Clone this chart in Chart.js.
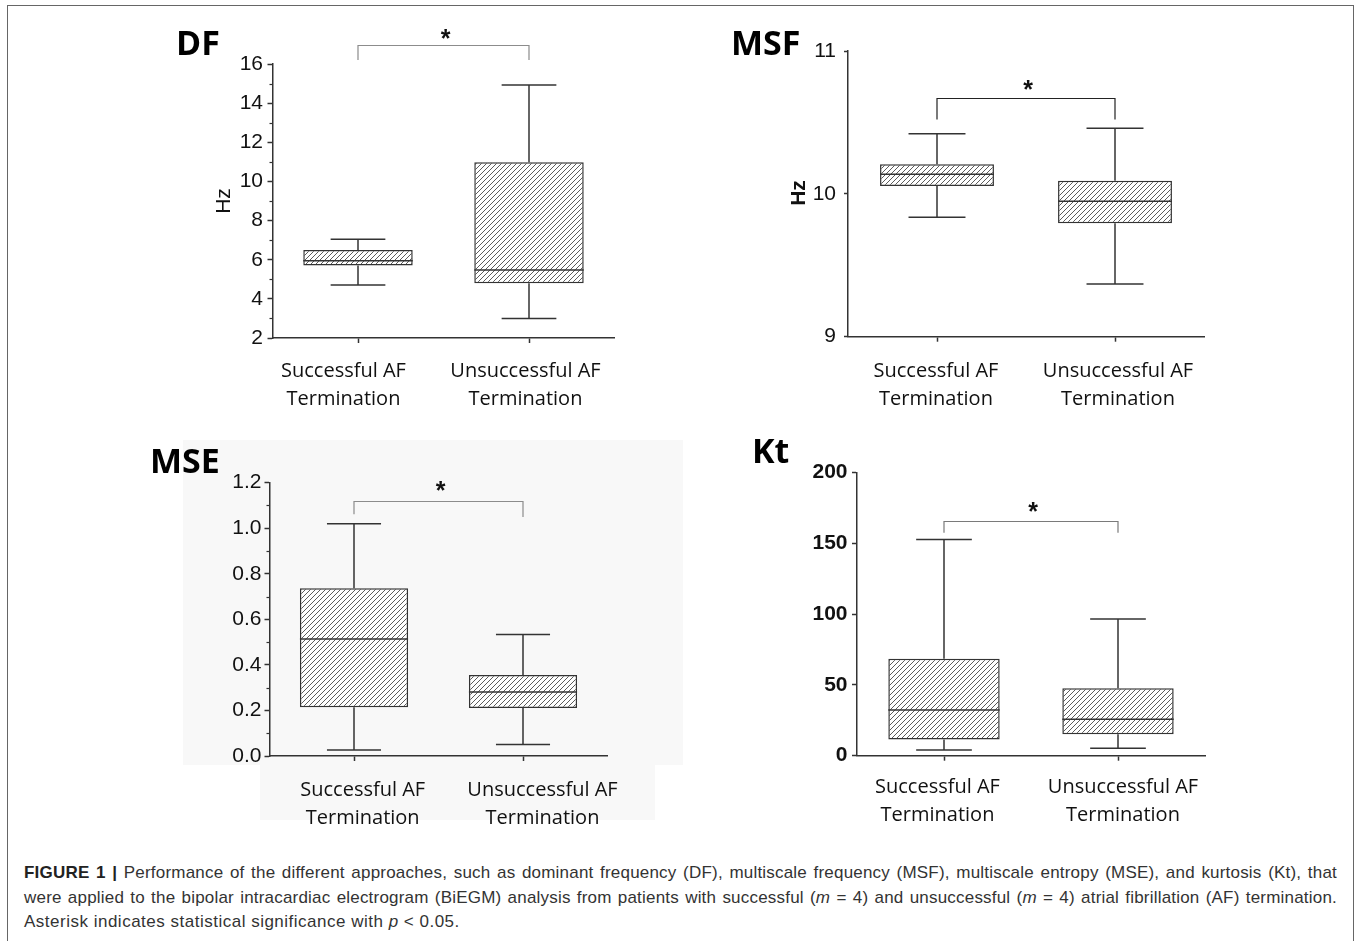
<!DOCTYPE html>
<html>
<head>
<meta charset="utf-8">
<script src="https://cdn.jsdelivr.net/npm/chart.js@4.4.1/dist/chart.umd.min.js"></script>
<style>
  html, body { margin:0; padding:0; background:#fff; }
  body { position:relative; width:1360px; height:941px; overflow:hidden; }
  .frame { position:absolute; left:7px; top:5px; width:1347px; height:950px; border:1.5px solid #666; box-sizing:border-box; }
  .bg { position:absolute; background:#f8f8f8; }
  canvas { position:absolute; }
  .caption { position:absolute; left:24px; top:861px; width:1313px; font-family:'Liberation Sans', Arial, sans-serif; font-size:17px; letter-spacing:0.2px; line-height:24.5px; color:#333; }
  .caption div { text-align:justify; text-align-last:justify; white-space:nowrap; }
  .caption div.last { text-align-last:left; letter-spacing:0.5px; }
  .caption b { color:#222; }
</style>
</head>
<body>
<div class="frame"></div>
<div class="bg" style="left:183px; top:440px; width:500px; height:325px;"></div>
<div class="bg" style="left:260px; top:765px; width:395px; height:55px;"></div>
<canvas id="df" width="500" height="420" style="left:130px; top:10px;"></canvas>
<canvas id="msf" width="520" height="420" style="left:700px; top:10px;"></canvas>
<canvas id="mse" width="560" height="410" style="left:130px; top:430px;"></canvas>
<canvas id="kt" width="520" height="410" style="left:700px; top:430px;"></canvas>
<div class="caption">
  <div><b>FIGURE 1 |</b> Performance of the different approaches, such as dominant frequency (DF), multiscale frequency (MSF), multiscale entropy (MSE), and kurtosis (Kt), that</div>
  <div>were applied to the bipolar intracardiac electrogram (BiEGM) analysis from patients with successful (<i>m</i> = 4) and unsuccessful (<i>m</i> = 4) atrial fibrillation (AF) termination.</div>
  <div class="last">Asterisk indicates statistical significance with <i>p</i> &lt; 0.05.</div>
</div>
<script>
// ---------- DATA ----------
const categories = [['Successful AF', 'Termination'], ['Unsuccessful AF', 'Termination']];

// DF (Hz)
const dfMin    = [4.71, 3.00];
const dfQ1     = [5.70, 4.80];
const dfMedian = [5.95, 5.47];
const dfQ3     = [6.50, 10.98];
const dfMax    = [7.04, 14.93];
const dfTicks  = [2, 4, 6, 8, 10, 12, 14, 16];
const dfMinorTicks = [3, 5, 7, 9, 11, 13, 15];

// MSF (Hz)
const msfMin    = [9.836, 9.369];
const msfQ1     = [10.055, 9.794];
const msfMedian = [10.137, 9.948];
const msfQ3     = [10.207, 10.092];
const msfMax    = [10.42, 10.46];
const msfTicks  = [9, 10, 11];
const msfMinorTicks = [];

// MSE
const mseMin    = [0.026, 0.050];
const mseQ1     = [0.214, 0.211];
const mseMedian = [0.514, 0.281];
const mseQ3     = [0.737, 0.356];
const mseMax    = [1.02, 0.533];
const mseTicks  = [0, 0.2, 0.4, 0.6, 0.8, 1.0, 1.2];
const mseMinorTicks = [0.1, 0.3, 0.5, 0.7, 0.9, 1.1];

// Kt
const ktMin    = [4.0, 5.2];
const ktQ1     = [11.5, 15.1];
const ktMedian = [32.3, 25.7];
const ktQ3     = [68.5, 47.6];
const ktMax    = [152.5, 96.5];
const ktTicks  = [0, 50, 100, 150, 200];
const ktMinorTicks = [];

// ---------- PANEL STYLE / LAYOUT ----------
const panels = {
  df: {
    canvas:{left:130, top:10, width:500, height:420},
    area:{left:272.5, top:64, right:614.5, bottom:338},
    min:dfMin, q1:dfQ1, med:dfMedian, q3:dfQ3, max:dfMax, ticks:dfTicks, minor:dfMinorTicks, dec:0,
    title:{text:'DF', x:176, y:55},
    yTitle:{text:'Hz', x:230, y:201, bold:false},
    bracket:{top:16.97, leftEnd:16.2, rightEnd:16.2, color:'#8c8c8c', starDy:13.5},
    labelDx:[-14.5, -3.5], labelBase:[376.7, 405],
    tickBold:false, tickLen:5, tickPad:4.5
  },
  msf: {
    canvas:{left:700, top:10, width:520, height:420},
    area:{left:848, top:51, right:1204, bottom:336.7},
    min:msfMin, q1:msfQ1, med:msfMedian, q3:msfQ3, max:msfMax, ticks:msfTicks, minor:msfMinorTicks, dec:0,
    title:{text:'MSF', x:731, y:55},
    yTitle:{text:'Hz', x:805, y:193, bold:true},
    bracket:{top:10.67, leftEnd:10.52, rightEnd:10.52, color:'#222', starDy:15.5},
    labelDx:[-1, 3], labelBase:[376.7, 405],
    tickBold:false, tickLen:4, tickPad:8
  },
  mse: {
    canvas:{left:130, top:430, width:560, height:410},
    area:{left:269.5, top:482.7, right:607.5, bottom:756},
    min:mseMin, q1:mseQ1, med:mseMedian, q3:mseQ3, max:mseMax, ticks:mseTicks, minor:mseMinorTicks, dec:1,
    title:{text:'MSE', x:150, y:473},
    yTitle:null,
    bracket:{top:1.119, leftEnd:1.061, rightEnd:1.049, color:'#8c8c8c', starDy:17},
    labelDx:[8.7, 19.5], labelBase:[796, 823.5],
    tickBold:false, tickLen:5, tickPad:3
  },
  kt: {
    canvas:{left:700, top:430, width:520, height:410},
    area:{left:857, top:472.3, right:1205, bottom:755.7},
    min:ktMin, q1:ktQ1, med:ktMedian, q3:ktQ3, max:ktMax, ticks:ktTicks, minor:ktMinorTicks, dec:0,
    title:{text:'Kt', x:752, y:462.5},
    yTitle:null,
    bracket:{top:165.9, leftEnd:157.4, rightEnd:157.4, color:'#7a7a7a', starDy:16},
    labelDx:[-6.5, 5], labelBase:[792.7, 820.7],
    tickBold:true, tickLen:5, tickPad:4.5
  }
};

const INK = '#333';

function line(ctx, x1, y1, x2, y2) { ctx.beginPath(); ctx.moveTo(x1, y1); ctx.lineTo(x2, y2); ctx.stroke(); }

const boxPlugin = {
  id: 'boxExtras',
  afterDatasetsDraw(chart) {
    const p = panels[chart.canvas.id]; if (!p) return;
    const ctx = chart.ctx, y = chart.scales.y, meta = chart.getDatasetMeta(0);
    ctx.save();
    ctx.strokeStyle = INK; ctx.lineWidth = 1.5;
    meta.data.forEach((bar, i) => {
      const cx = bar.x, half = bar.width / 2, cap = bar.width / 4;
      const yMin = y.getPixelForValue(p.min[i]);
      const yQ1 = y.getPixelForValue(p.q1[i]);
      const yMed = y.getPixelForValue(p.med[i]);
      const yQ3 = y.getPixelForValue(p.q3[i]);
      const yMax = y.getPixelForValue(p.max[i]);
      line(ctx, cx, yQ3, cx, yMax);
      line(ctx, cx - cap, yMax, cx + cap, yMax);
      line(ctx, cx, yQ1, cx, yMin);
      line(ctx, cx - cap, yMin, cx + cap, yMin);
      line(ctx, cx - half, yMed, cx + half, yMed);
    });
    ctx.restore();
  },
  afterDraw(chart) {
    const p = panels[chart.canvas.id]; if (!p) return;
    const ctx = chart.ctx, x = chart.scales.x, y = chart.scales.y;
    const ox = p.canvas.left, oy = p.canvas.top;
    ctx.save();
    // minor ticks
    ctx.strokeStyle = INK; ctx.lineWidth = 1.2;
    p.minor.forEach(v => {
      const py = Math.round(y.getPixelForValue(v)) + 0.5;
      line(ctx, chart.chartArea.left - 3, py, chart.chartArea.left, py);
    });
    // category labels (two lines each)
    ctx.fillStyle = '#111';
    ctx.font = '20px "Open Sans", sans-serif';
    ctx.textAlign = 'center'; ctx.textBaseline = 'alphabetic';
    categories.forEach((lines, i) => {
      const cx = x.getPixelForValue(i) + p.labelDx[i];
      lines.forEach((t, k) => ctx.fillText(t, cx, p.labelBase[k] - oy));
    });
    // significance bracket
    const b = p.bracket;
    const xl = x.getPixelForValue(0), xr = x.getPixelForValue(1);
    const yt = Math.round(y.getPixelForValue(b.top)) + 0.5;
    ctx.strokeStyle = b.color; ctx.lineWidth = 1.2;
    ctx.beginPath();
    ctx.moveTo(xl, y.getPixelForValue(b.leftEnd));
    ctx.lineTo(xl, yt);
    ctx.lineTo(xr, yt);
    ctx.lineTo(xr, y.getPixelForValue(b.rightEnd));
    ctx.stroke();
    // star
    ctx.fillStyle = '#111';
    ctx.font = 'bold 25px "Liberation Sans", Arial, sans-serif';
    ctx.textAlign = 'center'; ctx.textBaseline = 'alphabetic';
    ctx.fillText('*', (xl + xr) / 2 + 2, yt - b.starDy + 0.58 * 25);
    // panel title
    ctx.font = 'bold 34px "Open Sans", sans-serif';
    ctx.textAlign = 'left';
    ctx.fillStyle = '#000';
    ctx.fillText(p.title.text, p.title.x - ox, p.title.y - oy);
    // y title
    if (p.yTitle) {
      ctx.save();
      ctx.translate(p.yTitle.x - ox, p.yTitle.y - oy);
      ctx.rotate(-Math.PI / 2);
      ctx.font = (p.yTitle.bold ? 'bold ' : '') + '21px "Liberation Sans", Arial, sans-serif';
      ctx.textAlign = 'center'; ctx.textBaseline = 'alphabetic';
      ctx.fillStyle = '#111';
      ctx.fillText(p.yTitle.text, 0, 0);
      ctx.restore();
    }
    ctx.restore();
  }
};
Chart.register(boxPlugin);

function makeHatch(ctx) {
  const c = document.createElement('canvas');
  const s = 5; c.width = s; c.height = s;
  const g = c.getContext('2d');
  g.fillStyle = '#ffffff'; g.fillRect(0, 0, s, s);
  g.strokeStyle = '#5c5c5c'; g.lineWidth = 1;
  g.beginPath();
  g.moveTo(0, s); g.lineTo(s, 0);
  g.moveTo(-1, 1); g.lineTo(1, -1);
  g.moveTo(s - 1, s + 1); g.lineTo(s + 1, s - 1);
  g.stroke();
  return ctx.createPattern(c, 'repeat');
}

function build(id) {
  const p = panels[id];
  const el = document.getElementById(id);
  const ctx = el.getContext('2d');
  const cv = p.canvas, a = p.area;
  new Chart(ctx, {
    type: 'bar',
    data: {
      labels: categories,
      datasets: [{
        data: p.q1.map((v, i) => [v, p.q3[i]]),
        backgroundColor: makeHatch(ctx),
        borderColor: INK,
        borderWidth: 1.5,
        borderSkipped: false,
        barPercentage: 0.8,
        categoryPercentage: 0.8
      }]
    },
    options: {
      responsive: false,
      animation: false,
      devicePixelRatio: 1,
      layout: { padding: { left: 0, top: a.top - cv.top, right: cv.left + cv.width - a.right, bottom: 0 } },
      plugins: { legend: { display: false }, tooltip: { enabled: false }, title: { display: false } },
      scales: {
        x: {
          type: 'category',
          offset: true,
          grid: { drawOnChartArea: false, offset: false, tickLength: 5, tickColor: INK, tickWidth: 1.5 },
          border: { color: INK, width: 1.5 },
          ticks: { display: false },
          afterFit: s => { s.height = cv.top + cv.height - a.bottom; }
        },
        y: {
          type: 'linear',
          min: p.ticks[0],
          max: p.ticks[p.ticks.length - 1],
          afterBuildTicks: s => { s.ticks = p.ticks.map(v => ({ value: v })); },
          grid: { drawOnChartArea: false, tickLength: p.tickLen, tickColor: INK, tickWidth: 1.5 },
          border: { color: INK, width: 1.5 },
          ticks: {
            font: { family: 'Liberation Sans', size: 21, weight: p.tickBold ? 'bold' : 'normal' },
            color: '#111',
            padding: p.tickPad,
            callback: v => Number(v).toFixed(p.dec)
          },
          afterFit: s => { s.width = a.left - cv.left; }
        }
      }
    }
  });
}

function go() { ['df', 'msf', 'mse', 'kt'].forEach(build); }
if (document.fonts && document.fonts.load) {
  Promise.all([
    document.fonts.load('20px "Open Sans"'),
    document.fonts.load('bold 34px "Open Sans"'),
    document.fonts.load('21px "Liberation Sans"'),
    document.fonts.load('bold 21px "Liberation Sans"')
  ]).then(go, go);
} else { go(); }
</script>
</body>
</html>
